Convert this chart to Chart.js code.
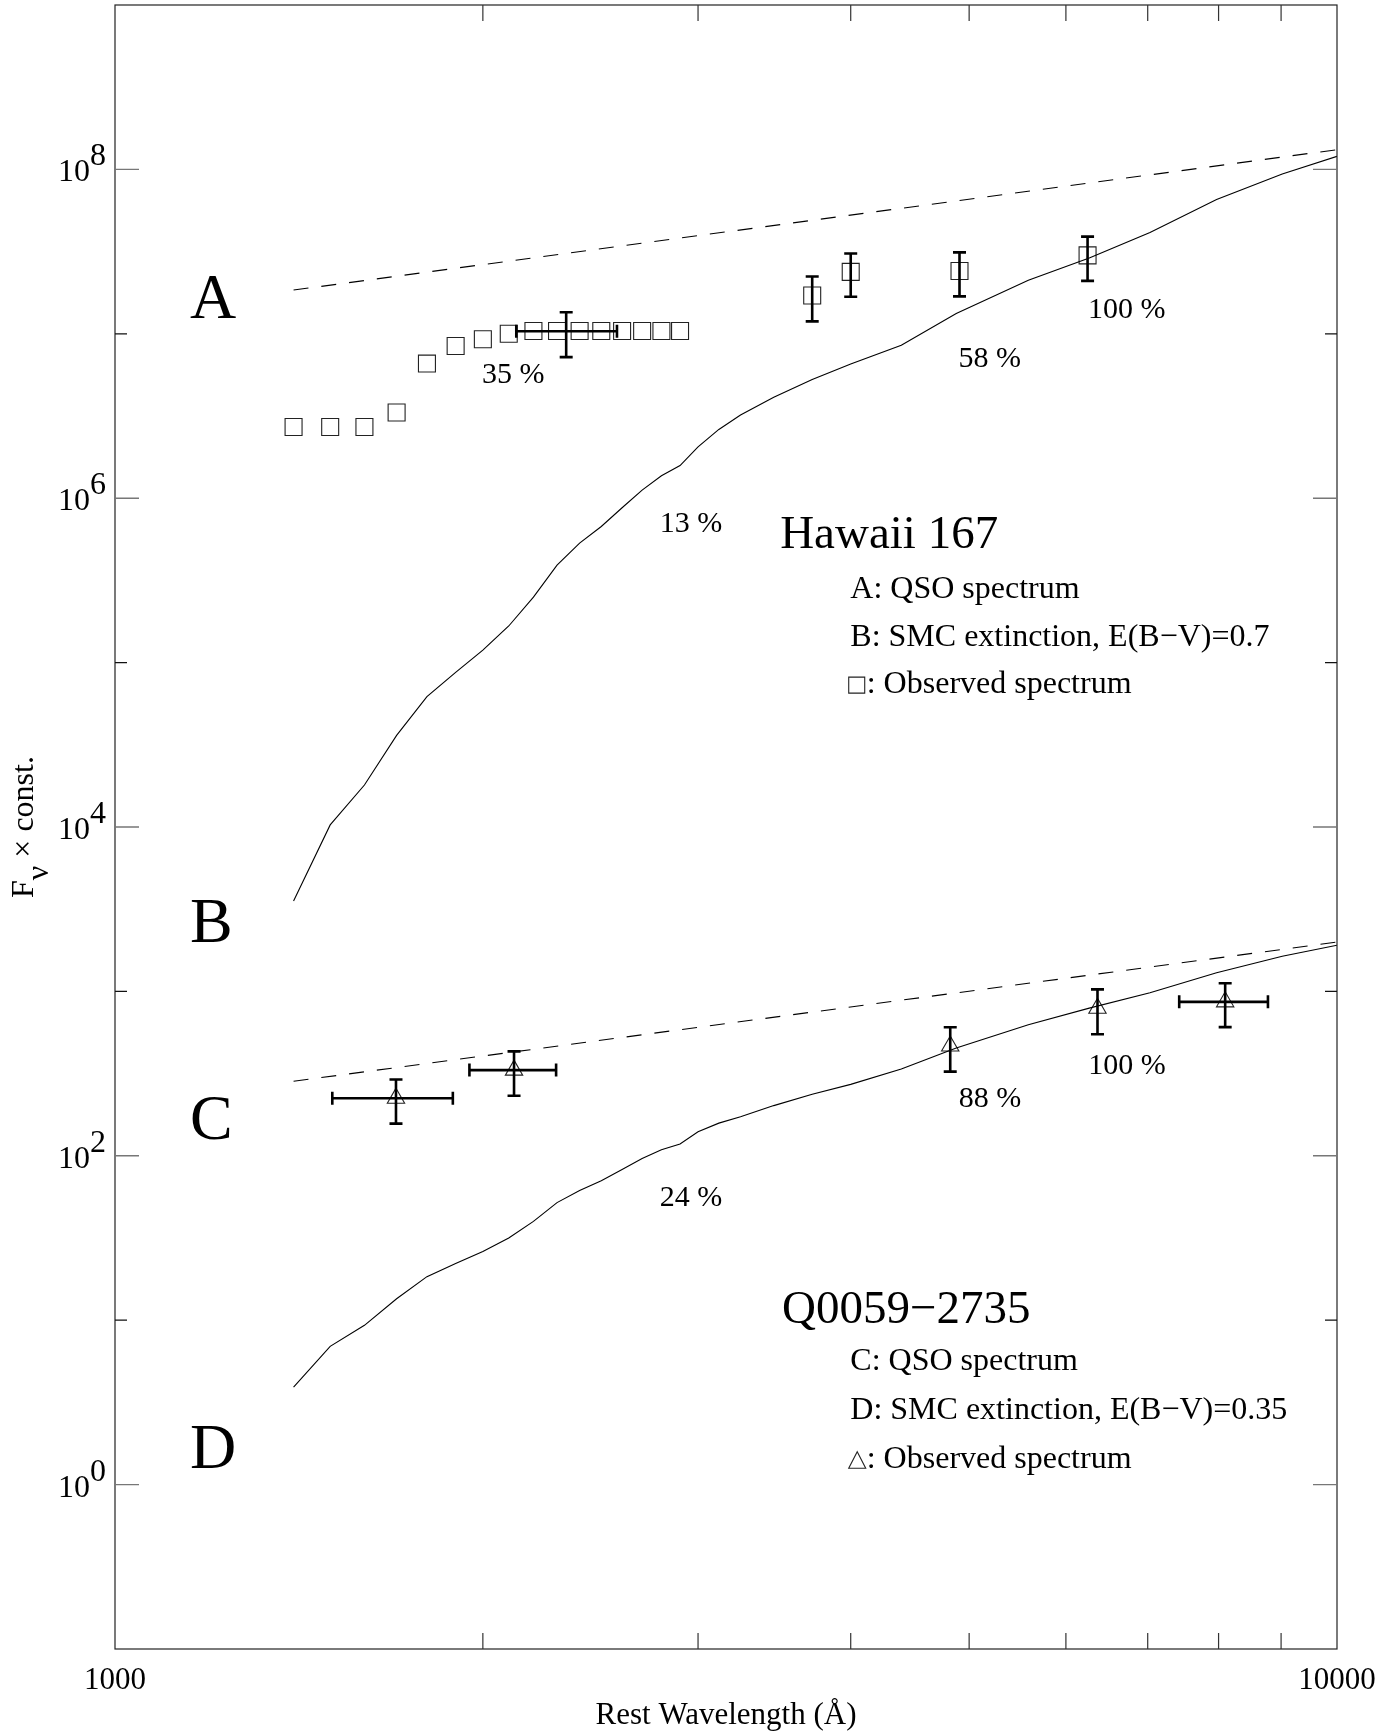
<!DOCTYPE html>
<html><head><meta charset="utf-8">
<script src="https://cdn.jsdelivr.net/npm/chart.js@4.4.1/dist/chart.umd.min.js"></script>
<style>html,body{margin:0;padding:0;background:#fff;}canvas{display:block;}</style>
</head><body>
<canvas id="c" width="1396" height="1733"></canvas>
<script>
// ---------- data (rest wavelength in Å, F_nu x const.) ----------
const qsoA_wl   = [1400, 10000];
const qsoA_flux = [1.845e7, 1.318e8];

const smcB_wl   = [1400,1500,1600,1700,1800,1900,2000,2100,2200,2300,2400,2500,2600,2700,2800,2900,3000,3120,3250,3460,3720,4000,4400,4880,5590,6270,7030,7970,9020,10000];
const smcB_flux = [3.55e3,1.03e4,1.80e4,3.61e4,6.21e4,8.73e4,1.19e5,1.67e5,2.50e5,3.92e5,5.33e5,6.73e5,8.75e5,1.12e6,1.37e6,1.58e6,2.05e6,2.62e6,3.21e6,4.11e6,5.27e6,6.55e6,8.51e6,1.33e7,2.12e7,2.89e7,4.13e7,6.56e7,9.38e7,1.20e8];

const qsoC_wl   = [1400, 10000];
const qsoC_flux = [284, 1995];

const smcD_wl   = [1400,1500,1600,1700,1800,1900,2000,2100,2200,2300,2400,2500,2600,2700,2800,2900,3000,3120,3250,3460,3720,4000,4400,4880,5590,6270,7030,7970,9020,10000];
const smcD_flux = [3.92,6.93,9.31,13.5,18.4,22.1,26.2,31.6,39.9,51.9,61.5,70.6,82.6,96.4,109,118,140,158,173,202,237,272,337,453,627,791,982,1297,1637,1910];

// Hawaii 167 observed spectrum (squares)
const obsA_wl   = [1400,1500,1600,1700,1800,1900,2000,2100,2200,2300,2400,2500,2600,2700,2800,2900];
const obsA_flux = [2.71e6,2.71e6,2.71e6,3.32e6,6.59e6,8.43e6,9.26e6,1.00e7,1.04e7,1.04e7,1.04e7,1.04e7,1.04e7,1.04e7,1.04e7,1.04e7];
// Hawaii 167 photometry with errors
const photA_wl   = [3720, 4000, 4910, 6250];
const photA_flux = [1.71e7, 2.38e7, 2.41e7, 3.00e7];
const photA_err  = [5.2e6, 7.0e6, 7.2e6, 9.0e6];
// Hawaii 167 broad-band point (error bars only)
const bandA_wl   = [2340];
const bandA_flux = [1.036e7];
const bandA_err  = [3.15e6];
const bandA_wlLo = [2130];
const bandA_wlHi = [2575];

// Q0059-2735 observed (triangles)
const obsC_wl   = [1698, 2121, 4825, 6368, 8100];
const obsC_flux = [224, 332, 465, 789, 864];
const obsC_err  = [67, 100, 140, 240, 258];
const obsC_wlLo = [1506, 1950, null, null, 7428];
const obsC_wlHi = [1890, 2296, null, null, 8780];

// axis ticks
const xMinorTicks = [2000,3000,4000,5000,6000,7000,8000,9000];
const xTickLabels = [1000, 10000];
const yMajorExp   = [0, 2, 4, 6, 8];
const yMinorExp   = [1, 3, 5, 7];

// ---------- helpers ----------
const pts = (w, f) => w.map((v, i) => ({x: v, y: f[i]}));
const SERIF = "'Liberation Serif','DejaVu Serif',serif";

// text annotations (anchored in data coordinates)
const notes = [
  {t:'A', x:1152, y:1.242e7, size:64, align:'left'},
  {t:'B', x:1152, y:1995,    size:64, align:'left'},
  {t:'C', x:1152, y:126.5,   size:64, align:'left'},
  {t:'D', x:1152, y:1.263,   size:64, align:'left'},
  {t:'35 %',  x:2118, y:5.00e6,  size:30, align:'center'},
  {t:'13 %',  x:2961, y:6.24e5,  size:30, align:'center'},
  {t:'58 %',  x:5197, y:6.25e6,  size:30, align:'center'},
  {t:'100 %', x:6729, y:1.242e7, size:30, align:'center'},
  {t:'24 %',  x:2961, y:49.5,    size:30, align:'center'},
  {t:'88 %',  x:5200, y:198,     size:30, align:'center'},
  {t:'100 %', x:6733, y:314,     size:30, align:'center'},
  {t:'Hawaii 167', x:3502, y:4.97e5, size:47, align:'left'},
  {t:'A: QSO spectrum', x:3997, y:2.46e5, size:32, align:'left'},
  {t:'B: SMC extinction, E(B\u2212V)=0.7', x:3997, y:1.265e5, size:32, align:'left'},
  {t:'Q0059\u22122735', x:3515, y:9.57, size:47, align:'left'},
  {t:'C: QSO spectrum', x:3997, y:4.98, size:32, align:'left'},
  {t:'D: SMC extinction, E(B\u2212V)=0.35', x:3997, y:2.50, size:32, align:'left'}
];
const symNotes = [
  {sym:'square',   t:': Observed spectrum', x:3985, y:6.52e4, size:32},
  {sym:'triangle', t:': Observed spectrum', x:3985, y:1.258, size:32}
];

function vErr(ctx, x, y1, y2, cap){
  ctx.beginPath();
  ctx.moveTo(x, y1); ctx.lineTo(x, y2);
  ctx.moveTo(x-cap, y1); ctx.lineTo(x+cap, y1);
  ctx.moveTo(x-cap, y2); ctx.lineTo(x+cap, y2);
  ctx.stroke();
}
function hErr(ctx, x1, x2, y, cap){
  ctx.beginPath();
  ctx.moveTo(x1, y); ctx.lineTo(x2, y);
  ctx.moveTo(x1, y-cap); ctx.lineTo(x1, y+cap);
  ctx.moveTo(x2, y-cap); ctx.lineTo(x2, y+cap);
  ctx.stroke();
}

const decor = {
  id: 'decor',
  afterDatasetsDraw(chart){
    const ctx = chart.ctx, X = chart.scales.x, Y = chart.scales.y;
    const px = v => X.getPixelForValue(v), py = v => Y.getPixelForValue(v);
    ctx.save();
    ctx.strokeStyle = '#000'; ctx.lineWidth = 2.6; ctx.lineCap = 'butt';
    const cap = 6.5;
    photA_wl.forEach((w, i) => vErr(ctx, px(w), py(photA_flux[i]+photA_err[i]), py(photA_flux[i]-photA_err[i]), cap));
    bandA_wl.forEach((w, i) => {
      vErr(ctx, px(w), py(bandA_flux[i]+bandA_err[i]), py(bandA_flux[i]-bandA_err[i]), cap);
      hErr(ctx, px(bandA_wlLo[i]), px(bandA_wlHi[i]), py(bandA_flux[i]), cap);
    });
    obsC_wl.forEach((w, i) => {
      vErr(ctx, px(w), py(obsC_flux[i]+obsC_err[i]), py(obsC_flux[i]-obsC_err[i]), cap);
      if (obsC_wlLo[i] != null) hErr(ctx, px(obsC_wlLo[i]), px(obsC_wlHi[i]), py(obsC_flux[i]), cap);
    });
    ctx.restore();
  },
  afterDraw(chart){
    const ctx = chart.ctx, X = chart.scales.x, Y = chart.scales.y, a = chart.chartArea;
    const px = v => X.getPixelForValue(v), py = v => Y.getPixelForValue(v);
    ctx.save();
    // frame
    ctx.strokeStyle = '#222'; ctx.lineWidth = 1.2;
    ctx.strokeRect(a.left, a.top, a.right - a.left, a.bottom - a.top);
    // x ticks (inward, top and bottom)
    ctx.lineWidth = 1.2; ctx.strokeStyle = '#333';
    xMinorTicks.forEach(v => {
      const x = px(v);
      ctx.beginPath();
      ctx.moveTo(x, a.bottom); ctx.lineTo(x, a.bottom - 16);
      ctx.moveTo(x, a.top); ctx.lineTo(x, a.top + 16);
      ctx.stroke();
    });
    // y ticks
    ctx.strokeStyle = '#777'; ctx.lineWidth = 1.4;
    yMajorExp.forEach(e => {
      const y = py(Math.pow(10, e));
      ctx.beginPath();
      ctx.moveTo(a.left, y); ctx.lineTo(a.left + 24, y);
      ctx.moveTo(a.right, y); ctx.lineTo(a.right - 24, y);
      ctx.stroke();
    });
    ctx.strokeStyle = '#111'; ctx.lineWidth = 1.2;
    yMinorExp.forEach(e => {
      const y = py(Math.pow(10, e));
      ctx.beginPath();
      ctx.moveTo(a.left, y); ctx.lineTo(a.left + 12, y);
      ctx.moveTo(a.right, y); ctx.lineTo(a.right - 12, y);
      ctx.stroke();
    });
    // y tick labels 10^n
    ctx.fillStyle = '#000';
    ctx.textBaseline = 'alphabetic';
    ctx.font = '32px ' + SERIF;
    yMajorExp.forEach(e => {
      const y = py(Math.pow(10, e));
      const right = a.left - 9;
      const es = String(e);
      const ew = ctx.measureText(es).width;
      ctx.textAlign = 'right';
      ctx.fillText(es, right, y - 4);
      ctx.fillText('10', right - ew, y + 12);
    });
    // x tick labels
    ctx.font = '31px ' + SERIF;
    ctx.textAlign = 'center';
    xTickLabels.forEach(v => ctx.fillText(String(v), px(v), a.bottom + 40));
    // x title
    ctx.fillText('Rest Wavelength (\u00C5)', (a.left + a.right) / 2, 1724);
    // y title (rotated)
    ctx.save();
    const midY = (a.top + a.bottom) / 2;
    ctx.font = '32px ' + SERIF;
    const wF = ctx.measureText('F').width, wNu = ctx.measureText('\u03BD').width;
    const rest = ' \u00D7 const.';
    const wR = ctx.measureText(rest).width;
    const total = wF + wNu + wR;
    ctx.translate(33, midY + total / 2);
    ctx.rotate(-Math.PI / 2);
    ctx.textAlign = 'left';
    ctx.fillText('F', 0, 0);
    ctx.fillText('\u03BD', wF, 15);
    ctx.fillText(rest, wF + wNu, 0);
    ctx.restore();
    // annotations
    notes.forEach(n => {
      ctx.font = n.size + 'px ' + SERIF;
      ctx.textAlign = n.align;
      ctx.fillText(n.t, px(n.x), py(n.y));
    });
    symNotes.forEach(n => {
      const x0 = px(n.x), yb = py(n.y);
      ctx.strokeStyle = '#222'; ctx.lineWidth = 1.1;
      ctx.beginPath();
      if (n.sym === 'square') {
        ctx.rect(x0, yb - 16, 16, 16);
      } else {
        ctx.moveTo(x0 + 8.5, yb - 16.5); ctx.lineTo(x0 + 17, yb); ctx.lineTo(x0, yb); ctx.closePath();
      }
      ctx.stroke();
      ctx.font = n.size + 'px ' + SERIF;
      ctx.textAlign = 'left';
      ctx.fillText(n.t, x0 + 18, yb);
    });
    ctx.restore();
  }
};

const lineDS = (w, f, dash) => ({
  data: pts(w, f), showLine: true, fill: false, borderColor: '#000', borderWidth: 1.1,
  borderDash: dash || [], pointRadius: 0, tension: 0
});
const markDS = (w, f, style, r) => ({
  data: pts(w, f), showLine: false, pointStyle: style, pointRadius: r,
  pointBorderColor: '#222', pointBackgroundColor: 'rgba(0,0,0,0)', pointBorderWidth: 1.1,
  borderColor: '#222', backgroundColor: 'rgba(0,0,0,0)'
});

new Chart(document.getElementById('c'), {
  type: 'scatter',
  data: { datasets: [
    lineDS(qsoA_wl, qsoA_flux, [15, 13]),
    lineDS(smcB_wl, smcB_flux),
    lineDS(qsoC_wl, qsoC_flux, [15, 13]),
    lineDS(smcD_wl, smcD_flux),
    markDS(obsA_wl, obsA_flux, 'rect', 12),
    markDS(photA_wl, photA_flux, 'rect', 12),
    markDS(bandA_wl, bandA_flux, 'rect', 0),
    markDS(obsC_wl, obsC_flux, 'triangle', 10)
  ]},
  options: {
    responsive: false, animation: false, devicePixelRatio: 1,
    layout: { autoPadding: false, padding: { left: 115, top: 5, right: 59, bottom: 84 } },
    plugins: { legend: { display: false }, tooltip: { enabled: false } },
    scales: {
      x: { type: 'logarithmic', min: 1000, max: 10000, display: false },
      y: { type: 'logarithmic', min: 0.1, max: 1e9, display: false }
    }
  },
  plugins: [decor]
});
</script>
</body></html>
